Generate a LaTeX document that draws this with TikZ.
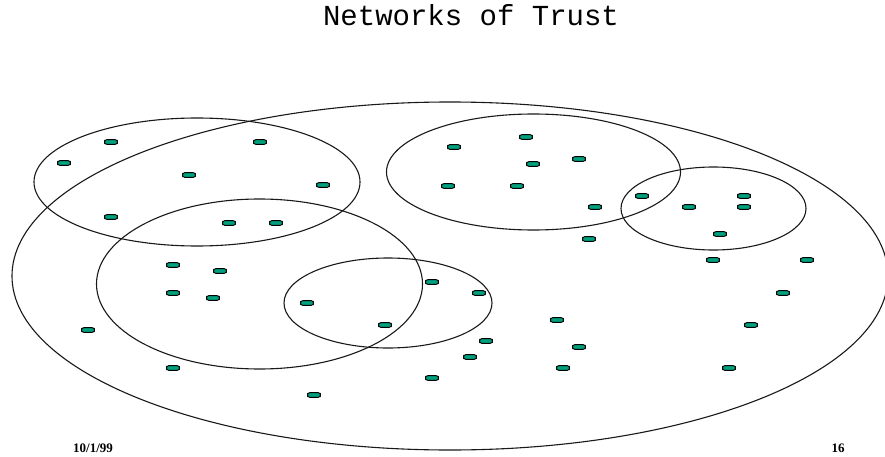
\documentclass[tikz,border=0pt]{standalone}
\usepackage{fontspec}
\setmainfont{Liberation Serif}
\newfontfamily\titlefont{Liberation Mono}
\definecolor{membergreen}{RGB}{0,160,124}
\tikzset{
  trustring/.style={black!90,line width=1.1pt},
  member/.style={draw=black,fill=membergreen,line width=0.9pt,rounded corners=2.5pt},
}
\begin{document}
\begin{tikzpicture}[x=1pt,y=-1pt]
   \useasboundingbox (0,0) rectangle (885,457);
   \clip (0,0) rectangle (885,457);
   \node [anchor=base] (title) at (471,26) {\titlefont\fontsize{29}{32}\selectfont Networks of Trust};
   % circles of trust
   \draw [trustring] (450,276) ellipse (438 and 174);
   \draw [trustring] (197,182) ellipse (163 and 64);
   \draw [trustring] (259.5,284) ellipse (163 and 85);
   \draw [trustring] (388,303) ellipse (104 and 45);
   \draw [trustring] (533.5,172) ellipse (147 and 58);
   \draw [trustring] (713.5,208.5) ellipse (92.5 and 41.5);
   % members
   \foreach \x/\y in {111/142, 64/163, 260/142, 189/175, 323/185, 111/217, 229/223, 276/223,
                      173/265, 220/271, 173/293, 213/298, 88/330, 307/303, 385/325, 432/282,
                      173/368, 314/395, 432/378,
                      454/147, 526/137, 533/164, 579/159, 448/186, 517/186, 595/207, 589/239,
                      642/196, 689/207, 744/196, 744/207, 720/234, 713/260, 807/260,
                      479/293, 557/320, 486/341, 470/357, 579/347, 563/368, 783/293, 751/325, 729/368}
     \filldraw [member] (\x-6.5,\y-2.4) rectangle (\x+6.5,\y+2.4);
   \node [anchor=base] (date) at (93,452) {\fontsize{13}{15}\selectfont\bfseries 10/1/99};
   \node [anchor=base] (page) at (838,452) {\fontsize{13}{15}\selectfont\bfseries 16};
\end{tikzpicture}
\end{document}
